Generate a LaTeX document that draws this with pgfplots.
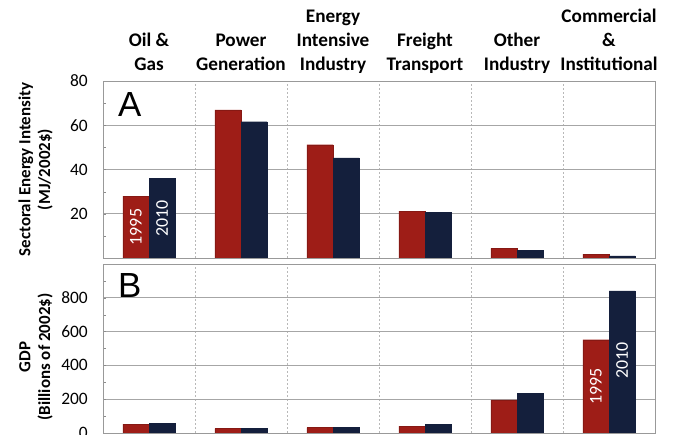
\documentclass[border=0pt]{standalone}
\usepackage{fontspec}
\setmainfont{Carlito}
\newfontfamily\arialfont{Liberation Sans}
\usepackage{pgfplots}
\pgfplotsset{compat=1.18}

\definecolor{barred}{RGB}{158,29,23}
\definecolor{barnavy}{RGB}{20,31,60}

\pgfplotsset{
  panel/.style={
    scale only axis, width=552bp,
    xmin=-0.5, xmax=5.5, ymin=0,
    ybar=0pt, bar width=0.283,
    axis line style={draw=black!40},
    ymajorgrids, major grid style={draw=black!35, line width=0.6bp},
    xtick={0,...,5}, minor xtick={0.5,1.5,...,4.5}, xminorgrids,
    minor grid style={draw=black!28, dash pattern=on 2bp off 2bp, line width=0.5bp},
    xtick style={draw=none},
    ytick pos=left, tick align=inside,
    major tick length=3bp, minor tick length=3bp,
    ytick style={draw=black!45},
    /pgf/number format/assume math mode=true,
    yticklabel style={font=\fontsize{17.5}{17.5}\selectfont, inner sep=0pt, xshift=-15bp},
    ylabel style={align=center, font=\bfseries\fontsize{17}{20}\selectfont,
      rotate=0, anchor=south, inner sep=0pt},
  },
  red bar/.style={fill=barred, draw=barred!85!black, line width=0.4bp, bar shift=-0.1415},
  navy bar/.style={fill=barnavy, draw=barnavy, line width=0.4bp, bar shift=0.1415},
}

\begin{document}
\begin{tikzpicture}

% A: sectoral energy intensity
\begin{axis}[panel,
  at={(103bp,177bp)}, anchor=south west, height=177bp,
  ymax=80, ytick={20,40,60,80}, minor ytick={10,30,50,70},
  xticklabel pos=upper,
  xticklabels={{Oil \&\\Gas\strut},{Power\\Generation\strut},{Energy\\Intensive\\Industry\strut},
    {Freight\\Transport\strut},{Other\\Industry\strut},{Commercial\\\&\\Institutional\strut}},
  xticklabel style={align=center, font=\bfseries\fontsize{19.3}{24}\selectfont,
    anchor=south, inner sep=0pt, yshift=3bp},
  ylabel={Sectoral Energy Intensity\\(MJ/2002\$)},
  ylabel style={at={(axis description cs:-0.0906,0.5)}},
]
\addplot[red bar] coordinates {(0,28) (1,67) (2,51.2) (3,21.2) (4,4.4) (5,1.8)};
\addplot[navy bar] coordinates {(0,36) (1,61.6) (2,45.3) (3,20.7) (4,3.3) (5,1.0)};
\node[rotate=90, text=white, font=\fontsize{18}{18}\selectfont] at (axis cs:-0.1415,14) {1995};
\node[rotate=90, text=white, font=\fontsize{18}{18}\selectfont] at (axis cs:0.1415,18) {2010};
\node[anchor=north west, inner sep=0pt, font=\arialfont\fontsize{35}{35}\selectfont]
  at (rel axis cs:0.027,0.938) {A};
\end{axis}

% B: GDP
\begin{axis}[panel,
  at={(103bp,2bp)}, anchor=south west, height=169bp,
  ymax=1000, ytick={0,200,...,800}, minor ytick={100,300,...,900},
  xticklabels={},
  ylabel={GDP\\(Billions of 2002\$)},
  ylabel style={at={(axis description cs:-0.0906,0.45)}},
]
\addplot[red bar] coordinates {(0,52) (1,26) (2,32) (3,40) (4,196) (5,552)};
\addplot[navy bar] coordinates {(0,56) (1,28) (2,32) (3,52) (4,234) (5,841)};
\node[rotate=90, text=white, font=\fontsize{18}{18}\selectfont] at (axis cs:4.8585,276) {1995};
\node[rotate=90, text=white, font=\fontsize{18}{18}\selectfont] at (axis cs:5.1415,430) {2010};
\node[anchor=north west, inner sep=0pt, font=\arialfont\fontsize{35}{35}\selectfont]
  at (rel axis cs:0.027,0.947) {B};
\end{axis}

\pgfresetboundingbox
\useasboundingbox (0,0) rectangle (675bp,435bp);
\end{tikzpicture}
\end{document}
